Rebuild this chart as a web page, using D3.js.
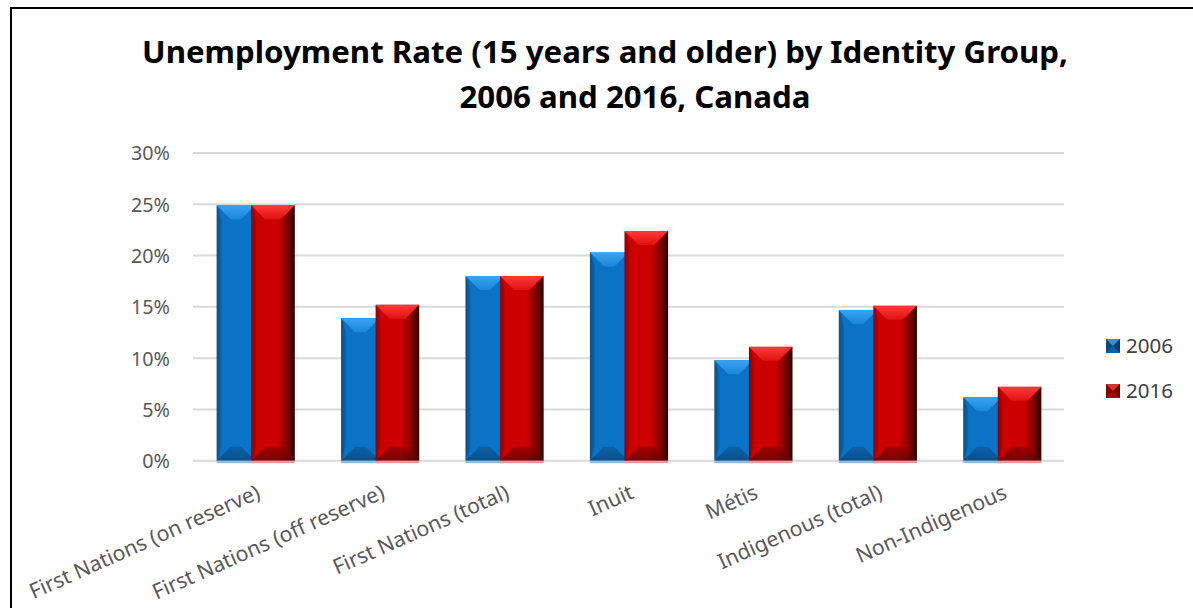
<!DOCTYPE html>
<html>
<head>
<meta charset="utf-8">
<script src="https://cdn.jsdelivr.net/npm/d3@7"></script>
<style>
  html, body { margin: 0; padding: 0; background: #fff; overflow: hidden; }
  svg { display: block; }
</style>
</head>
<body>
<svg id="chart" width="1193" height="608"></svg>
<script>
// ---- data ----
const categories = [
  "First Nations (on reserve)",
  "First Nations (off reserve)",
  "First Nations (total)",
  "Inuit",
  "Métis",
  "Indigenous (total)",
  "Non-Indigenous"
];
const seriesNames = ["2006", "2016"];
const values2006 = [24.9, 13.9, 18.0, 20.3, 9.8, 14.7, 6.2];
const values2016 = [24.9, 15.2, 18.0, 22.4, 11.1, 15.1, 7.2];
const yTicks = [0, 5, 10, 15, 20, 25, 30];
const titleLines = ["Unemployment Rate (15 years and older) by Identity Group,", "2006 and 2016, Canada"];

// ---- setup ----
const svg = d3.select("#chart");
const FONT = "'Noto Sans', 'Open Sans', sans-serif";

function fitText(sel, target) {
  const n = sel.node();
  const fs = parseFloat(sel.attr("font-size"));
  const len = n.getComputedTextLength();
  if (len > 0) sel.attr("font-size", (fs * target / len).toFixed(2));
  return sel;
}

const defs = svg.append("defs");
function hGrad(id, stops) {
  const g = defs.append("linearGradient").attr("id", id).attr("x1", 0).attr("x2", 1).attr("y1", 0).attr("y2", 0);
  stops.forEach(s => g.append("stop").attr("offset", s[0]).attr("stop-color", s[1]));
}
function vGrad(id, stops) {
  const g = defs.append("linearGradient").attr("id", id).attr("x1", 0).attr("x2", 0).attr("y1", 0).attr("y2", 1);
  stops.forEach(s => g.append("stop").attr("offset", s[0]).attr("stop-color", s[1]));
}
hGrad("bodyBlue", [[0, "#0a5c9f"], [0.12, "#0b72c4"], [0.85, "#0b74c8"], [1, "#0a67b5"]]);
hGrad("bodyRed", [[0, "#a80000"], [0.1, "#cc0000"], [0.6, "#cc0000"], [0.8, "#8c0000"], [1, "#2a0000"]]);
vGrad("topBlue", [[0, "#3aa3f2"], [1, "#1b86d8"]]);
vGrad("topRed", [[0, "#ff3a3a"], [1, "#e01010"]]);
vGrad("botBlue", [[0, "#0b5a9a"], [1, "#0a3f6e"]]);
vGrad("botRed", [[0, "#900000"], [1, "#5a0000"]]);

const colors = {
  "2006": { body: "url(#bodyBlue)", top: "url(#topBlue)", bot: "url(#botBlue)", refl: "#8fbbe3", solid: "#0b72c4" },
  "2016": { body: "url(#bodyRed)", top: "url(#topRed)", bot: "url(#botRed)", refl: "#e89a9a", solid: "#cc0000" }
};

// ---- frame ----
svg.append("rect").attr("x", 11).attr("y", 8).attr("width", 1300).attr("height", 700)
  .attr("fill", "none").attr("stroke", "#000").attr("stroke-width", 2);

// ---- title ----
const t1 = svg.append("text").attr("x", 605).attr("y", 63).attr("text-anchor", "middle")
  .attr("font-family", FONT).attr("font-weight", "bold").attr("font-size", 30).attr("fill", "#000")
  .text(titleLines[0]);
fitText(t1, 926);
const t2 = svg.append("text").attr("x", 635).attr("y", 108).attr("text-anchor", "middle")
  .attr("font-family", FONT).attr("font-weight", "bold").attr("font-size", 30).attr("fill", "#000")
  .text(titleLines[1]);
t2.attr("font-size", t1.attr("font-size"));

// ---- scales ----
const x = d3.scaleBand().domain(categories).range([193, 1064]).paddingInner(0.38).paddingOuter(0.19);
const xs = d3.scaleBand().domain(seriesNames).range([0, x.bandwidth()]);
const y = d3.scaleLinear().domain([0, 30]).range([460.7, 153]);

// ---- grid ----
const grid = svg.append("g");
grid.selectAll("line").data(yTicks).join("line")
  .attr("x1", 193).attr("x2", 1064)
  .attr("y1", d => y(d)).attr("y2", d => y(d))
  .attr("stroke", "#d9d9d9").attr("stroke-width", 2);

// y axis labels via d3 axis
const yAxis = d3.axisLeft(y).tickValues(yTicks).tickFormat(d => d + "%").tickSize(0).tickPadding(0);
const yg = svg.append("g").attr("transform", "translate(170,0)").call(yAxis);
yg.select(".domain").remove();
yg.selectAll("text").attr("font-family", FONT).attr("font-size", 19).attr("fill", "#595959").attr("dy", "0.35em");
{
  const node = yg.selectAll("text").filter(d => d === 30);
  const len = node.node().getComputedTextLength();
  const fs = 19 * 39 / len;
  yg.selectAll("text").attr("font-size", fs.toFixed(2));
}

// ---- bars ----
const rows = categories.map((c, i) => ({ cat: c, vals: [
  { s: "2006", v: values2006[i] },
  { s: "2016", v: values2016[i] }
]}));

const groups = svg.append("g").selectAll("g").data(rows).join("g")
  .attr("transform", d => `translate(${x(d.cat)},0)`);

function drawBar(g, d) {
  const w0 = xs.bandwidth();
  const left = d.s === "2016" ? xs(d.s) - 4 : xs(d.s);
  const w = d.s === "2016" ? w0 + 5 : w0;
  const top = y(d.v), base = y(0);
  const h = base - top;
  const c = colors[d.s];
  const b = Math.min(14, h / 2, w / 2);
  const bg = g.append("g");
  bg.append("rect").attr("x", left).attr("y", top).attr("width", w).attr("height", h).attr("fill", c.body);
  bg.append("path").attr("d", `M${left},${top}L${left + w},${top}L${left + w - b},${top + b}L${left + b},${top + b}Z`)
    .attr("fill", c.top);
  bg.append("path").attr("d", `M${left},${top}L${left + b * 0.35},${top + b}L${left + b * 0.35},${base - b}L${left},${base}Z`)
    .attr("fill", "#000").attr("opacity", 0.12);
  bg.append("path").attr("d", `M${left},${base}L${left + w},${base}L${left + w - b},${base - b}L${left + b},${base - b}Z`)
    .attr("fill", c.bot).attr("opacity", 0.7);
  bg.append("rect").attr("x", left).attr("y", base).attr("width", w).attr("height", 2.5).attr("fill", c.refl);
}

groups.each(function(d) {
  const g = d3.select(this);
  d.vals.forEach(v => drawBar(g, v));
});

// ---- x axis labels ----
const xl = svg.append("g");
const xlab = xl.selectAll("text").data(categories).join("text")
  .attr("text-anchor", "end")
  .attr("font-family", FONT).attr("font-size", 18).attr("fill", "#595959")
  .attr("transform", d => `translate(${x(d) + x.bandwidth() / 2 + 0},${483}) rotate(-24)`)
  .attr("dy", "0.75em")
  .text(d => d);
{
  const n = xlab.filter(d => d === categories[0]).node();
  const len = n.getComputedTextLength();
  xlab.attr("font-size", (18 * 250 / len).toFixed(2));
}

// ---- legend ----
const lg = svg.append("g");
const legendY = { "2006": 346, "2016": 391 };
seriesNames.forEach(s => {
  const cy = legendY[s];
  const c = colors[s];
  const g = lg.append("g").attr("transform", `translate(1106,${cy - 7})`);
  g.append("rect").attr("width", 14).attr("height", 14).attr("fill", c.solid);
  g.append("path").attr("d", "M0,0L14,0L7,7Z").attr("fill", "#fff").attr("opacity", 0.2);
  g.append("path").attr("d", "M0,0L7,7L0,14Z").attr("fill", "#000").attr("opacity", 0.35);
  g.append("path").attr("d", "M14,0L7,7L14,14Z").attr("fill", "#000").attr("opacity", 0.45);
  g.append("path").attr("d", "M0,14L7,7L14,14Z").attr("fill", "#000").attr("opacity", 0.15);
  const t = lg.append("text").attr("x", 1126).attr("y", cy).attr("dy", "0.35em")
    .attr("font-family", FONT).attr("font-size", 20).attr("fill", "#404040").text(s);
  fitText(t, 47);
});
</script>
</body>
</html>
